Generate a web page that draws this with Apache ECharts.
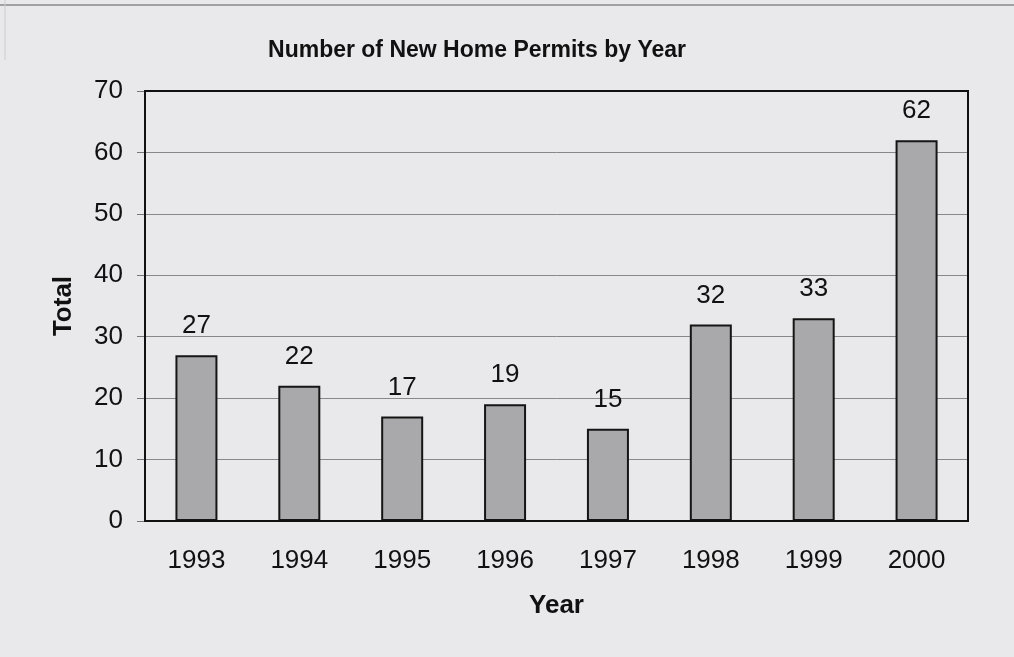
<!DOCTYPE html>
<html><head><meta charset="utf-8">
<script src="https://cdn.jsdelivr.net/npm/echarts@6/dist/echarts.min.js"></script>
<style>html,body{margin:0;padding:0;background:#e9e9eb;}#c{width:1014px;height:657px;}</style>
</head><body><div id="c"></div>
<script>
const categories = ['1993','1994','1995','1996','1997','1998','1999','2000'];
const totals = [27, 22, 17, 19, 15, 32, 33, 62];
const yTicks = [0,10,20,30,40,50,60,70];

const chart = echarts.init(document.getElementById('c'));
const font = '"Liberation Sans", Arial, sans-serif';
chart.setOption({
  backgroundColor: '#e9e9eb',
  animation: false,
  title: {
    text: 'Number of New Home Permits by Year',
    left: 472, top: 34, textAlign: 'center',
    textStyle: {fontFamily: font, fontSize: 23, fontWeight: 'bold', color: '#111'}
  },
  graphic: [
    {type: 'line', shape: {x1: 0, y1: 5, x2: 1014, y2: 5}, style: {stroke: '#888', lineWidth: 1.5}},
    {type: 'line', shape: {x1: 5, y1: 0, x2: 5, y2: 60}, style: {stroke: '#ccc', lineWidth: 1}},
    {type: 'rect', shape: {x: 145, y: 91, width: 823, height: 430}, style: {fill: 'none', stroke: '#111', lineWidth: 2}, z: 10}
  ],
  grid: {left: 145, right: 46, top: 91, bottom: 136, containLabel: false},
  xAxis: {
    type: 'category', data: categories,
    name: 'Year', nameLocation: 'middle', nameGap: 72,
    nameTextStyle: {fontFamily: font, fontSize: 26, fontWeight: 'bold', color: '#111'},
    axisLine: {lineStyle: {color: '#111', width: 2}},
    axisTick: {show: false},
    axisLabel: {fontFamily: font, fontSize: 26, color: '#111', margin: 27}
  },
  yAxis: {
    type: 'value', min: 0, max: 70, interval: 10,
    name: 'Total', nameLocation: 'middle', nameGap: 68,
    nameTextStyle: {fontFamily: font, fontSize: 26, fontWeight: 'bold', color: '#111'},
    axisLine: {show: true, lineStyle: {color: '#111', width: 2}},
    axisTick: {show: true, length: 8, inside: false, lineStyle: {color: '#777'}},
    axisLabel: {fontFamily: font, fontSize: 26, color: '#111', margin: 22,
      formatter: v => yTicks.includes(v) ? String(v) : ''},
    splitLine: {lineStyle: {color: '#888', width: 1}}
  },
  series: [{
    type: 'bar', data: totals, barWidth: 42,
    itemStyle: {color: '#a9a9ab', borderColor: '#151515', borderWidth: 2},
    label: {show: true, position: 'top', distance: 16, fontFamily: font, fontSize: 26, color: '#111'}
  }]
});
</script></body></html>
